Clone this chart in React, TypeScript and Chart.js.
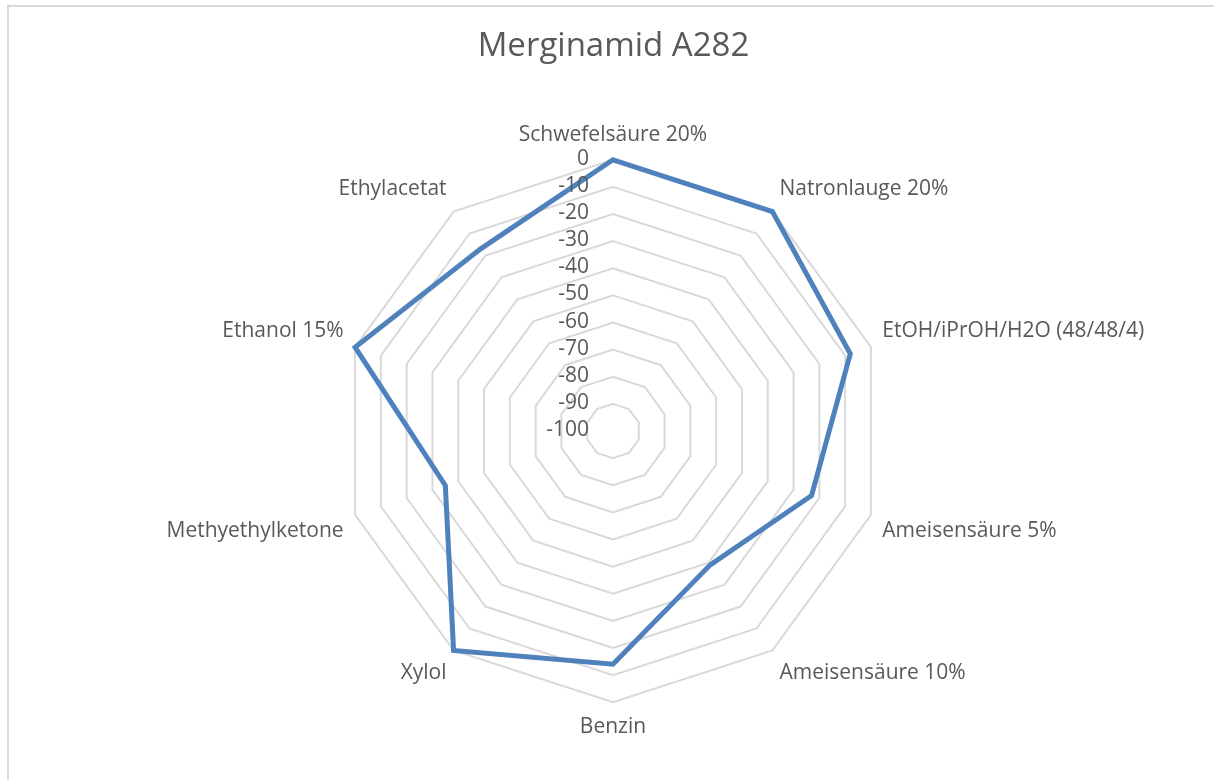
import React, { useEffect, useRef } from "react";
import { Chart, registerables } from "chart.js";

Chart.register(...registerables);

const TITLE = "Merginamid A282";
const CATEGORIES = [
  "Schwefelsäure 20%",
  "Natronlauge 20%",
  "EtOH/iPrOH/H2O (48/48/4)",
  "Ameisensäure 5%",
  "Ameisensäure 10%",
  "Benzin",
  "Xylol",
  "Methyethylketone",
  "Ethanol 15%",
  "Ethylacetat",
];
const SERIES_VALUES = [0, 0, -8, -23, -39, -14, 0, -35, 0, -17];
const TICK_VALUES = [0, -10, -20, -30, -40, -50, -60, -70, -80, -90, -100];

const FONT = "'Open Sans', 'DejaVu Sans', sans-serif";
const TEXT_COLOR = "#595959";

const tickLabelPlugin = {
  id: "tickLabels",
  afterDatasetsDraw(chart: any) {
    const scale = chart.scales.r;
    const ctx = chart.ctx;
    ctx.save();
    ctx.font = `21px ${FONT}`;
    ctx.fillStyle = TEXT_COLOR;
    ctx.textAlign = "right";
    ctx.textBaseline = "middle";
    for (const v of TICK_VALUES) {
      const d = scale.getDistanceFromCenterForValue(v);
      ctx.fillText(String(v), scale.xCenter - 24, scale.yCenter - d - 1);
    }
    ctx.restore();
  },
};

export default function App() {
  const ref = useRef<HTMLCanvasElement | null>(null);
  useEffect(() => {
    if (!ref.current) return;
    const chart = new Chart(ref.current, {
      type: "radar",
      data: {
        labels: CATEGORIES,
        datasets: [
          {
            label: TITLE,
            data: SERIES_VALUES,
            borderColor: "#4F81BD",
            backgroundColor: "transparent",
            borderWidth: 5,
            pointRadius: 0,
            fill: false,
            tension: 0,
          },
        ],
      },
      options: {
        responsive: false,
        animation: false,
        layout: { padding: { left: 13, right: 0, top: 0, bottom: 39 } },
        plugins: {
          legend: { display: false },
          tooltip: { enabled: false },
          title: {
            display: true,
            text: TITLE,
            color: TEXT_COLOR,
            font: { family: FONT, size: 33, weight: "normal" },
            padding: { top: 27, bottom: 56 },
          },
        },
        scales: {
          r: {
            min: -100,
            max: 0,
            ticks: { display: false, stepSize: 10 },
            grid: { color: "#d9d9d9", lineWidth: 2 },
            angleLines: { display: false },
            pointLabels: {
              color: TEXT_COLOR,
              font: { family: FONT, size: 21 },
              padding: 12,
            },
          },
        },
      },
      plugins: [tickLabelPlugin],
    });
    return () => chart.destroy();
  }, []);
  return (
    <div
      style={{
        position: "fixed",
        left: 0,
        top: 0,
        width: 1214,
        height: 780,
        overflow: "hidden",
        background: "#fff",
      }}
    >
      <div
        style={{
          position: "absolute",
          left: 7,
          top: 5,
          width: 1300,
          height: 900,
          borderTop: "2px solid #d9d9d9",
          borderLeft: "2px solid #d9d9d9",
        }}
      />
      <canvas
        ref={ref}
        width={1214}
        height={780}
        style={{ position: "absolute", left: 0, top: 0 }}
      />
    </div>
  );
}
